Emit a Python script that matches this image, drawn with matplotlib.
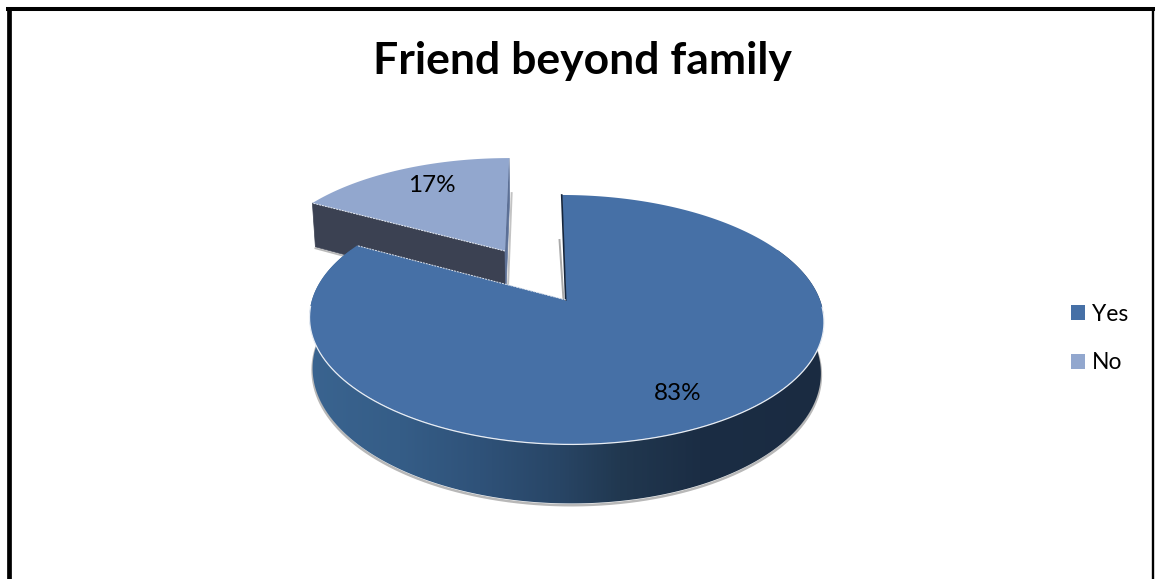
import numpy as np
import matplotlib
matplotlib.use("Agg")
import matplotlib.pyplot as plt
from matplotlib.colors import to_rgb
from matplotlib.patches import Patch, Polygon

# Survey result shown by the chart
title = "Friend beyond family"
categories = ["Yes", "No"]
shares = [83, 17]

# Colours
top_colors = ["#4670a6", "#92a7ce"]
chord_color = "#3b4152"
sliver_color = "#5c7096"
wall_stops_x = [305, 400, 480, 560, 620, 700, 830]
wall_stops_c = ["#3a6490", "#355d87", "#2f5279", "#284565", "#213850", "#1b2d44", "#1a2b41"]

# Pixel-based canvas and the perspective model of the tilted disc
W, H = 1155, 579
CX, CY = 566, 300
A, B_V, PERSP = 254.0, 121.5, 0.157
SHEAR = -0.038
DEPTH = 50.0
EXPLODE = 0.5


def project(x, y, z=0.0):
    """Map disc coordinates (x, y, depth fraction z) to canvas pixels."""
    x, y = np.asarray(x, float), np.asarray(y, float)
    d = 1 + PERSP * y
    u = A * x / d * (1 - 0.012 * z)
    v = B_V * y / d
    return CX + u + SHEAR * v, CY - v + z * DEPTH / d


def ring(t0, t1, n=400):
    t = np.radians(np.linspace(t0, t1, n))
    return np.sin(t), np.cos(t)


fig = plt.figure(figsize=(W / 100, H / 100), dpi=100, facecolor="white")
ax = fig.add_axes([0, 0, 1, 1])
ax.axis("off")

# Outer frame, open along the lower edge
ax.plot([8.5, 8.5], [H, 9], color="black", lw=3.4, solid_capstyle="butt", zorder=1)
ax.plot([6, 1155], [9, 9], color="black", lw=2.9, solid_capstyle="butt", zorder=1)
ax.plot([1153, 1153], [9, H], color="black", lw=1.7, solid_capstyle="butt", zorder=1)

fractions = np.array(shares) / sum(shares)
sweep_yes = 360 * fractions[0]

# Pulled-out "No" slice
mid = np.radians((sweep_yes + 360) / 2)
ox, oy = EXPLODE * np.sin(mid) + 0.006, EXPLODE * np.cos(mid)
sx, sy = ring(sweep_yes, 360, 120)
sx, sy = sx + ox, sy + oy

# Side facing the viewer, from the centre out to the left end
end_x, end_y = sx[0], sy[0]
p = [project(ox, oy), project(end_x, end_y), project(end_x, end_y, 1), project(ox, oy, 1)]
ax.add_patch(Polygon(p, closed=True, fc=chord_color, ec=chord_color, lw=0.5, zorder=3))

# Soft shadow below the pulled-out slice
bx, by = project(np.array([end_x, ox]), np.array([end_y, oy]), 1)
ax.plot(bx, by + 1.5, color="#a8a8a8", lw=1.3, alpha=0.8, zorder=2.5)

# Narrow side on the right of the slice
far_x, far_y = sx[-1], sy[-1]
p = [project(ox, oy), project(far_x, far_y), project(far_x, far_y, 1), project(ox, oy, 1)]
ax.add_patch(Polygon(p, closed=True, fc=sliver_color, ec=sliver_color, lw=0.5, zorder=3))
gx, gy = project(np.array([far_x, ox]), np.array([far_y, oy]), 0.98)
ax.plot([gx[0] + 2, gx[1] + 2], [gy[0] - 5, gy[1] - 2], color="#b4b4b4", lw=1.4, alpha=0.8, zorder=2.5)

px, py = project(np.r_[ox, sx], np.r_[oy, sy])
ax.add_patch(Polygon(np.c_[px, py], closed=True, fc=top_colors[1], ec="none", zorder=4))

# Main "Yes" slice: shadow, gradient wall, then the top face
wx, wy = ring(0, sweep_yes, 500)
front = wy < 0.45
lx, ly = project(wx, wy, 1)
shadow = wy < 0.2
ax.plot(lx[shadow], ly[shadow] + 1.8, color="#a6a6a6", lw=1.8, alpha=0.8, zorder=5)

tx, ty = project(wx, wy)
wall_outline = np.r_[np.c_[tx[front], ty[front]], np.c_[lx[front][::-1], ly[front][::-1]]]
wall_patch = Polygon(wall_outline, closed=True, fc="none", ec="none", transform=ax.transData)
ax.add_patch(wall_patch)
grad_x = np.arange(wall_stops_x[0], wall_stops_x[-1] + 1)
stops = np.array([to_rgb(c) for c in wall_stops_c])
grad = np.stack([np.interp(grad_x, wall_stops_x, stops[:, i]) for i in range(3)], axis=-1)[None, :, :]
wall = ax.imshow(grad, extent=(grad_x[0], grad_x[-1], 520, 250), aspect="auto",
                 interpolation="bilinear", zorder=6)
wall.set_clip_path(wall_patch)

# Inner cut face at twelve o'clock seen as a thin dark edge
ix, iy = project(np.array([0, 0]), np.array([1, 0]))
ax.plot(ix - 2.5, iy + np.array([45, 0]), color="#aaaaaa", lw=1.4, zorder=3)

mx, my = project(np.r_[0, wx], np.r_[0, wy])
ax.add_patch(Polygon(np.c_[mx, my], closed=True, fc=top_colors[0], ec="none", zorder=7))
ax.plot(ix - 0.3, iy, color="#16263c", lw=1.2, zorder=8)

# Pale highlight where the face meets the wall, and along the slice edge
rim = wy < -0.05
ax.plot(tx[rim], ty[rim] + 0.3, color="#e8edf4", lw=0.9, zorder=8)
cx, cy = project(np.array([0, wx[-1]]), np.array([0, wy[-1]]))
ax.plot(cx, cy, color="#dfe5ee", lw=0.7, ls=(0, (2, 1)), zorder=8)
ex, ey = project(np.array([ox, end_x]), np.array([oy, end_y]))
ax.plot(ex, ey, color="#e8edf4", lw=0.7, ls=(0, (2, 1)), zorder=5)

ax.set_xlim(0, W)
ax.set_ylim(H, 0)

# Text
font = ["Lato", "DejaVu Sans"]
ax.text(582.5, 61, title, ha="center", va="center", fontsize=32, fontweight="bold",
        family=font, color="black", zorder=10)
label_positions = [(678, 393), (432, 186)]
for pos, share in zip(label_positions, shares):
    ax.text(pos[0], pos[1], f"{share}%", ha="center", va="center", fontsize=17.5,
            family=font, color="black", zorder=10)

handles = [Patch(fc=c, ec="none", label=n) for c, n in zip(top_colors, categories)]
ax.legend(handles=handles, loc="center left", bbox_to_anchor=(1071, 338.5), bbox_transform=ax.transData,
          frameon=False, prop={"family": font, "size": 16.5}, handlelength=0.6, handleheight=0.6,
          handletextpad=0.33, labelspacing=1.22, borderpad=0, borderaxespad=0)

fig.savefig("out.png", dpi=100, facecolor="white")
